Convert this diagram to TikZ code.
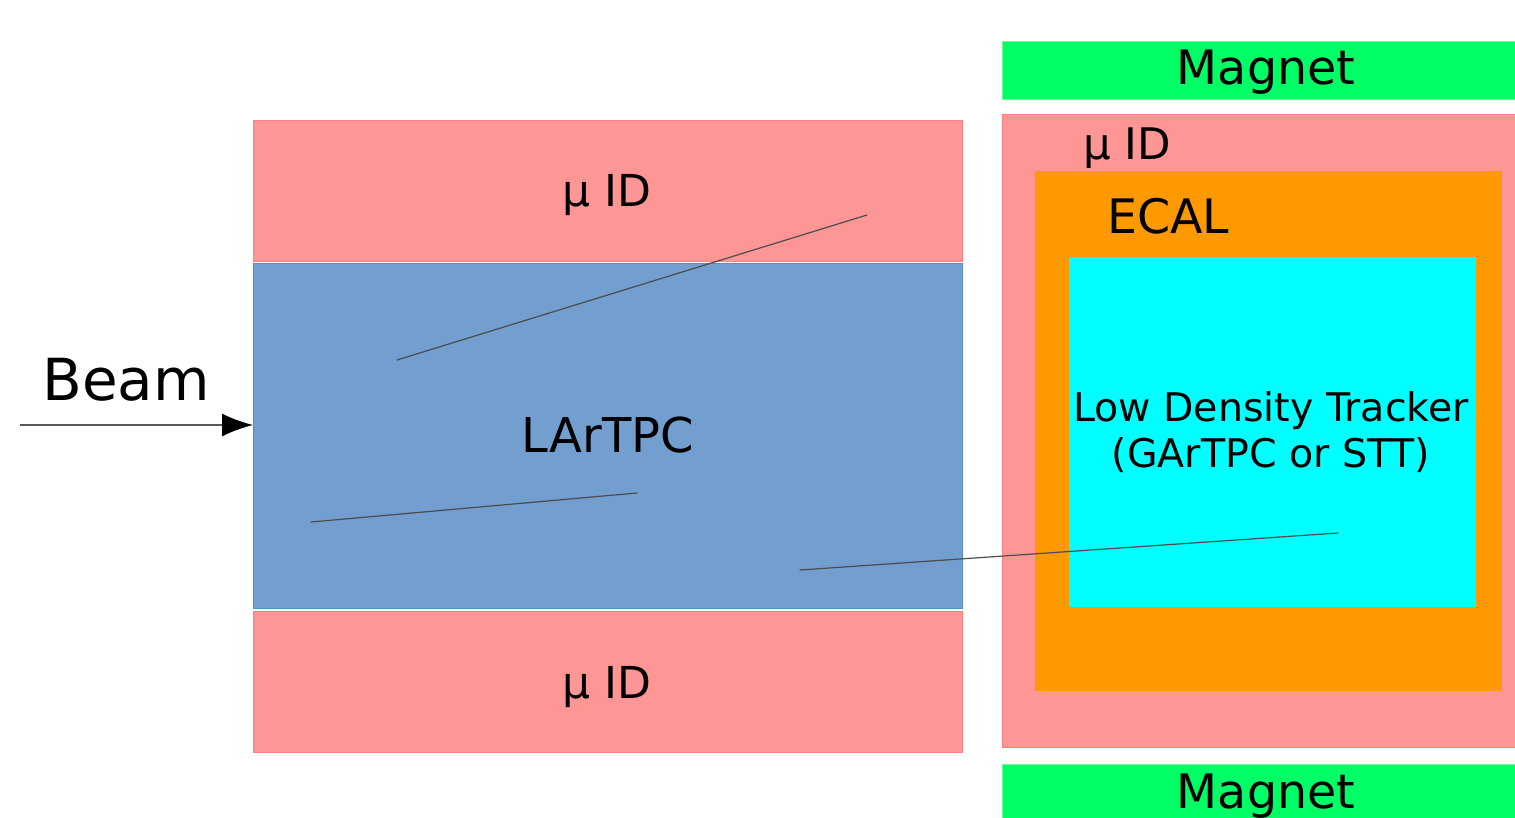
\documentclass[tikz,border=0pt]{standalone}
\usepackage{fontspec}
\setmainfont{DejaVu Sans}
\usepackage{tkz-euclide}
\usetikzlibrary{arrows.meta}

\definecolor{rosa}{HTML}{FF9696}
\definecolor{rosaborde}{HTML}{FF8080}
\definecolor{azul}{HTML}{729FCF}
\definecolor{azulborde}{HTML}{5C8BC2}
\definecolor{verde}{HTML}{00FF66}
\definecolor{verdeborde}{HTML}{66FF99}
\definecolor{naranja}{HTML}{FF9900}
\definecolor{cian}{HTML}{00FFFF}

\tikzset{
  caja/.style={rectangle, inner sep=0pt, anchor=north west, line width=1.2pt},
  rotulo/.style={inner sep=0pt, anchor=base},
  traza/.style={draw=black!70, line width=1.2pt},
  haz/.style={draw=black!65, line width=1.5pt, -{Latex[length=31pt,width=23pt,black]}}
}

\begin{document}
\begin{tikzpicture}[x=1pt,y=-1pt]
        \useasboundingbox (0,0) rectangle (1515,818);

        % Cajas del detector de argón líquido
        \node[caja, fill=rosa, draw=rosaborde, minimum width=709pt, minimum height=141pt] (muidsup) at (253,120) {};
        \node[caja, fill=azul, draw=azulborde, minimum width=709pt, minimum height=345pt] (lartpc) at (253,263) {};
        \node[caja, fill=rosa, draw=rosaborde, minimum width=709pt, minimum height=141pt] (muidinf) at (253,611) {};

        % Cajas del detector cercano con imán
        \node[caja, fill=verde, draw=verdeborde, minimum width=528pt, minimum height=58pt] (imansup) at (1002,41) {};
        \node[caja, fill=rosa, draw=rosaborde, minimum width=528pt, minimum height=633pt] (muidder) at (1002,114) {};
        \node[caja, fill=naranja, minimum width=467pt, minimum height=520pt] (ecal) at (1034,170) {};
        \node[caja, fill=cian, minimum width=407pt, minimum height=350pt] (ldt) at (1068,256) {};
        \node[caja, fill=verde, draw=verdeborde, minimum width=528pt, minimum height=60pt] (imaninf) at (1002,764) {};

        % Etiqueta las cajas
        \node[rotulo, font=\fontsize{44}{48}\selectfont] (tmuidsup) at (607,207) {µ ID};
        \node[rotulo, font=\fontsize{48}{52}\selectfont] (tlartpc) at (608,452) {LArTPC};
        \node[rotulo, font=\fontsize{44}{48}\selectfont] (tmuidinf) at (607,698) {µ ID};
        \node[rotulo, font=\fontsize{47.5}{50}\selectfont] (timansup) at (1266,85) {Magnet};
        \node[rotulo, font=\fontsize{47.5}{50}\selectfont] (timaninf) at (1266,808) {Magnet};
        \node[rotulo, anchor=base west, font=\fontsize{43.5}{48}\selectfont] (tmuidder) at (1083,160) {µ ID};
        \node[rotulo, anchor=base west, font=\fontsize{47.5}{50}\selectfont] (tecal) at (1107,234) {ECAL};
        \node[inner sep=0pt, align=center, font=\fontsize{39.5}{46}\selectfont] (tldt) at (1271,432)
          {Low Density Tracker\\(GArTPC or STT)};
        \node[rotulo, font=\fontsize{58}{62}\selectfont] (tbeam) at (126,400) {Beam};

        % Define los extremos de las trazas
        \tkzDefPoints{
            397/360/a1,
            867/215/b1,
            311/522/a2,
            637/493/b2,
            800/570/a3,
            1338/533/b3%
        }

        % Dibuja las trazas
        \tkzDrawSegments[traza](a1,b1 a2,b2 a3,b3)

        % Dibuja el haz
        \coordinate (origen) at (20,425);
        \draw[haz] (origen) -- (origen -| lartpc.west);
    \end{tikzpicture}
\end{document}
